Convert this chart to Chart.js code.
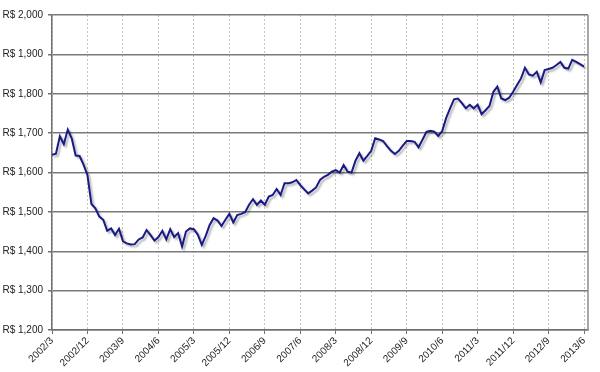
<!DOCTYPE html>
<html>
<head>
<meta charset="utf-8">
<script src="https://cdn.jsdelivr.net/npm/chart.js@4/dist/chart.umd.min.js"></script>
<style>
  body { margin: 0; background: #fff; }
  #wrap { width: 600px; height: 372px; position: relative; }
</style>
</head>
<body>
<div id="wrap"><canvas id="chart"></canvas></div>
<script>
// valores mensais, 2002/3 .. 2013/6
const valores = [
  1645, 1648, 1692, 1672, 1709, 1687, 1643, 1642, 1620, 1593,
  1520, 1509, 1488, 1480, 1452, 1458, 1441, 1457, 1425, 1420,
  1417, 1418, 1430, 1435, 1454, 1441, 1427, 1436, 1452, 1430,
  1456, 1436, 1446, 1412, 1450, 1458, 1456, 1442, 1416, 1439,
  1467, 1484, 1478, 1464, 1480, 1495, 1473, 1492, 1495, 1499,
  1518, 1532, 1518, 1529, 1518, 1539, 1543, 1558, 1543, 1573,
  1573, 1575, 1581, 1568, 1557, 1547, 1554, 1562, 1581, 1589,
  1594, 1602, 1606, 1600, 1619, 1602, 1600, 1630, 1649, 1630,
  1642, 1655, 1687, 1684, 1680, 1667, 1655, 1647, 1655, 1668,
  1680, 1680, 1678, 1664, 1683, 1703, 1706, 1704, 1693, 1705,
  1738, 1763, 1786, 1788, 1776, 1763, 1772, 1763, 1772, 1748,
  1758, 1769, 1805, 1818, 1788, 1784, 1790, 1805, 1822, 1839,
  1866, 1849, 1846, 1856, 1829, 1860, 1863, 1866, 1873, 1881,
  1866, 1864, 1886, 1881, 1875, 1869
];

// rótulos do eixo X (a cada 9 meses)
const rotulos = ['2002/3', '2002/12', '2003/9', '2004/6', '2005/3', '2005/12', '2006/9', '2007/6',
                 '2008/3', '2008/12', '2009/9', '2010/6', '2011/3', '2011/12', '2012/9', '2013/6'];
const posRotulos = rotulos.map((r, i) => i * 9);

const yTicks = [1200, 1300, 1400, 1500, 1600, 1700, 1800, 1900, 2000];

const fonte = { family: 'Arial, "Liberation Sans", sans-serif', size: 10 };

// sombra da linha
const sombra = {
  id: 'sombra',
  beforeDatasetDraw(chart) {
    const ctx = chart.ctx;
    ctx.save();
    ctx.shadowColor = 'rgba(0,0,0,0.3)';
    ctx.shadowBlur = 2;
    ctx.shadowOffsetX = 2;
    ctx.shadowOffsetY = 2;
  },
  afterDatasetDraw(chart) {
    chart.ctx.restore();
  }
};

// borda direita da área do gráfico
const borda = {
  id: 'borda',
  beforeDatasetsDraw(chart) {
    const { ctx, chartArea } = chart;
    ctx.save();
    ctx.strokeStyle = '#8c8c8c';
    ctx.lineWidth = 1.5;
    ctx.beginPath();
    ctx.moveTo(chartArea.right, chartArea.top);
    ctx.lineTo(chartArea.right, chartArea.bottom);
    ctx.stroke();
    ctx.restore();
  }
};

new Chart(document.getElementById('chart'), {
  type: 'line',
  data: {
    datasets: [{
      data: valores.map((v, i) => ({ x: i, y: v })),
      borderColor: '#1a1a86',
      borderWidth: 2,
      pointRadius: 0,
      tension: 0,
      fill: false
    }]
  },
  plugins: [sombra, borda],
  options: {
    responsive: true,
    maintainAspectRatio: false,
    devicePixelRatio: 1,
    animation: false,
    layout: { padding: { top: 15, right: 12, left: 0, bottom: 0 } },
    plugins: { legend: { display: false }, tooltip: { enabled: false } },
    scales: {
      x: {
        type: 'linear',
        min: 0,
        max: valores.length,
        afterBuildTicks: axis => { axis.ticks = posRotulos.map(v => ({ value: v })); },
        afterFit: axis => { axis.height = 42; },
        ticks: {
          autoSkip: false,
          minRotation: 45,
          maxRotation: 45,
          color: '#222',
          font: fonte,
          padding: 1,
          callback: v => rotulos[posRotulos.indexOf(v)]
        },
        grid: {
          color: '#c4c4c4',
          lineWidth: 1,
          drawTicks: true,
          tickLength: 4,
          tickColor: '#707070',
          tickWidth: 1
        },
        border: { display: true, color: '#707070', width: 1.5, dash: [2, 2] }
      },
      y: {
        min: 1200,
        max: 2000,
        afterBuildTicks: axis => { axis.ticks = yTicks.map(v => ({ value: v })); },
        afterFit: axis => { axis.width = 52; },
        ticks: {
          color: '#222',
          font: fonte,
          padding: 5,
          callback: v => 'R$ ' + v.toLocaleString('en-US')
        },
        grid: {
          color: '#7a7a7a',
          lineWidth: 1.5,
          tickLength: 4,
          tickColor: '#707070'
        },
        border: { display: true, color: '#707070', width: 1.5 }
      }
    }
  }
});
</script>
</body>
</html>
